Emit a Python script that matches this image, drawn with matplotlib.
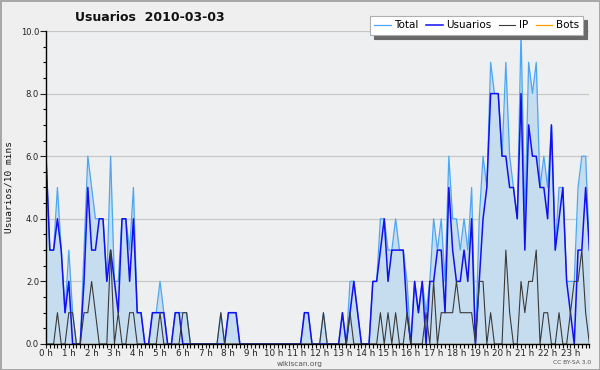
import matplotlib
matplotlib.use('Agg')
import matplotlib.pyplot as plt
from matplotlib.ticker import MultipleLocator, FixedLocator, FixedFormatter


# 数据: 每 10 分钟一个点, 共 144 个点 (0 h - 24 h)
usuarios = [6, 3, 3, 4, 3, 1, 2, 0, 0, 0, 2, 5,
            3, 3, 4, 4, 2, 3, 2, 1, 4, 4, 2, 4,
            1, 1, 0, 0, 1, 1, 1, 1, 0, 0, 1, 1,
            0, 0, 0, 0, 0, 0, 0, 0, 0, 0, 0, 0,
            1, 1, 1, 0, 0, 0, 0, 0, 0, 0, 0, 0,
            0, 0, 0, 0, 0, 0, 0, 0, 1, 1, 0, 0,
            0, 0, 0, 0, 0, 0, 1, 0, 1, 2, 1, 0,
            0, 0, 2, 2, 3, 4, 2, 3, 3, 3, 3, 1,
            0, 2, 1, 2, 0, 2, 2, 3, 3, 1, 5, 3,
            2, 2, 3, 2, 4, 0, 2, 4, 5, 8, 8, 8,
            6, 6, 5, 5, 4, 8, 3, 7, 6, 6, 5, 5,
            4, 7, 3, 4, 5, 2, 1, 0, 3, 3, 5, 3]

ip = [0, 0, 0, 1, 0, 0, 1, 1, 0, 0, 1, 1,
      2, 1, 0, 0, 0, 3, 0, 1, 0, 0, 1, 1,
      0, 0, 0, 0, 0, 0, 1, 0, 0, 0, 0, 0,
      1, 1, 0, 0, 0, 0, 0, 0, 0, 0, 1, 0,
      0, 0, 0, 0, 0, 0, 0, 0, 0, 0, 0, 0,
      0, 0, 0, 0, 0, 0, 0, 0, 0, 0, 0, 0,
      0, 1, 0, 0, 0, 0, 0, 0, 1, 0, 0, 0,
      0, 0, 0, 0, 1, 0, 1, 0, 1, 0, 0, 1,
      0, 0, 0, 0, 1, 0, 2, 0, 1, 1, 1, 1,
      2, 1, 1, 1, 1, 0, 2, 2, 0, 1, 0, 0,
      0, 3, 1, 0, 0, 2, 1, 2, 2, 3, 0, 1,
      1, 0, 0, 1, 0, 0, 1, 2, 2, 3, 1, 0]

bots = [0] * 144

# Total = Usuarios + IP + Bots
total = [u + p + b for u, p, b in zip(usuarios, ip, bots)]

horas = ['%d h' % h for h in range(24)]

x = list(range(len(total)))


fig = plt.figure(figsize=(6, 3.7), dpi=100, facecolor='#efefef',
                 edgecolor='#a8a8a8', linewidth=2)
ax = fig.add_axes([0.0767, 0.0703, 0.9057, 0.8459])
ax.set_facecolor('#eeeff0')

# 面积 + 折线
ax.fill_between(x, total, 0, color='#c6ddf0', linewidth=0, zorder=1)
ax.plot(x, total, color='#4da6f5', linewidth=0.9, label='Total', zorder=2)
ax.plot(x, usuarios, color='#1010f0', linewidth=1.1, label='Usuarios', zorder=3)
ax.plot(x, ip, color='#3a3a3a', linewidth=0.8, label='IP', zorder=4)
ax.plot(x, bots, color='#ffa000', linewidth=0.9, label='Bots', zorder=1.5)

ax.set_xlim(0, len(total) - 1)
ax.set_ylim(0, 10)

# 网格
ax.yaxis.grid(True, color='#c8c8c8', linewidth=0.9)
ax.set_axisbelow(True)

# 坐标轴
for s in ['top', 'right']:
    ax.spines[s].set_visible(False)
for s in ['left', 'bottom']:
    ax.spines[s].set_color('black')
    ax.spines[s].set_linewidth(1.0)
    ax.spines[s].set_zorder(6)

ax.yaxis.set_major_locator(MultipleLocator(2))
ax.yaxis.set_minor_locator(MultipleLocator(0.5))
ax.yaxis.set_major_formatter(plt.FormatStrFormatter('%.1f'))
ax.tick_params(axis='y', which='major', length=4, width=0.8, direction='out',
               labelsize=6, pad=1, colors='#222222')
ax.tick_params(axis='y', which='minor', length=2.5, width=0.8, direction='out')

ax.xaxis.set_major_locator(FixedLocator([6 * h for h in range(24)]))
ax.xaxis.set_major_formatter(FixedFormatter(horas))
ax.xaxis.set_minor_locator(MultipleLocator(1))
ax.tick_params(axis='x', which='major', length=3, width=0.8, direction='out',
               labelsize=6.3, pad=0.3, colors='#222222')
ax.tick_params(axis='x', which='minor', length=3, width=0.8, direction='out')

ax.set_ylabel('Usuarios/10 mins', fontsize=6.8, family='DejaVu Sans Mono',
              color='#111111', labelpad=5)

# 标题
fig.text(0.125, 0.952, 'Usuarios  2010-03-03', fontsize=9, fontweight='bold',
         ha='left', va='center', color='#111111')

# 图例
leg = ax.legend(loc='upper right', ncol=4, bbox_to_anchor=(0.972, 0.956),
                bbox_transform=fig.transFigure, fontsize=7.5, frameon=True,
                fancybox=False, shadow={'color': '#6a6a6a', 'alpha': 1.0,
                                        'ox': 3, 'oy': -3},
                edgecolor='#b0b0b0', facecolor='white', framealpha=1.0,
                handlelength=1.6, handletextpad=0.35,
                columnspacing=0.7, borderpad=0.4, borderaxespad=0)
leg.get_frame().set_linewidth(0.8)
leg.set_zorder(10)

fig.text(0.5, 0.016, 'wikiscan.org', fontsize=5.3, ha='center', va='center',
         color='#555555')
fig.text(0.985, 0.019, 'CC BY-SA 3.0', fontsize=4.3, ha='right', va='center',
         color='#555555')

fig.savefig('out.png', dpi=100, facecolor=fig.get_facecolor(),
            edgecolor=fig.get_edgecolor())
